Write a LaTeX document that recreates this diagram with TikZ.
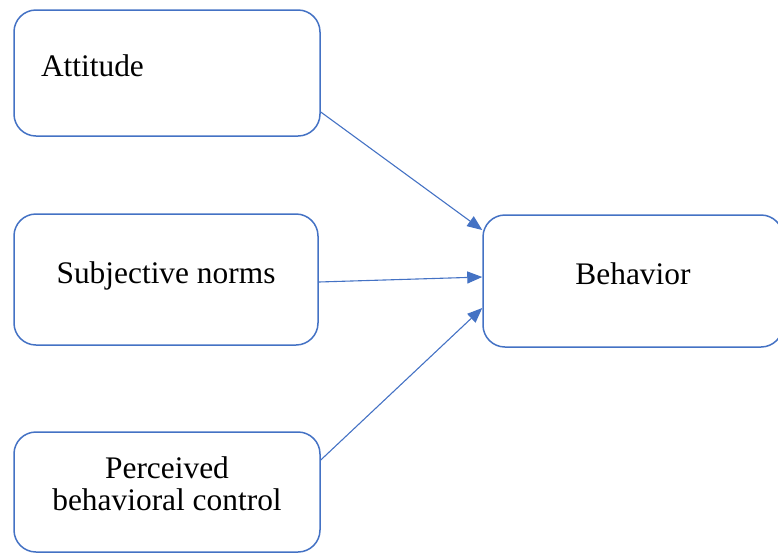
\documentclass[tikz,border=0pt]{standalone}
\usepackage{fontspec}
\setmainfont{Liberation Serif}
\usepackage{xcolor}
\usetikzlibrary{arrows.meta,positioning,calc}
\definecolor{lineblue}{RGB}{68,114,196}

\begin{document}
\begin{tikzpicture}[
    x=0.5pt, y=-0.5pt,
    block/.style={draw=lineblue, line width=0.75pt, rectangle, rounded corners=11pt, align=center, text height=11pt, text depth=7.5pt, font=\fontsize{15.7}{16}\selectfont},
    arrow/.style={-{Triangle[length=7.5pt,width=6pt]}, lineblue, line width=0.55pt}
]
    \useasboundingbox (0,0) rectangle (778,553);

    % Determinants (left)
    \node [block, minimum width=153pt, minimum height=63pt, text width=126pt, inner xsep=13.5pt, align=left] (attitude) at (167,73) {Attitude};
    \node [block, minimum width=152pt, minimum height=65.5pt] (norms) at (166,279.5) {Subjective norms};
    \node [block, minimum width=153pt, minimum height=60pt, text height=26pt] (control) at (167,492) {Perceived\\behavioral control};

    % Outcome (right)
    \node [block, minimum width=150pt, minimum height=66pt] (behavior) at (633,281) {Behavior};

    % Connections
    \draw [arrow] ($(attitude.east)+(0,39)$) -- ($(behavior.west)+(0,-51)$);
    \draw [arrow] ($(norms.east)+(0,2.5)$) -- ($(behavior.west)+(0,-4)$);
    \draw [arrow] ($(control.east)+(0,-32)$) -- ($(behavior.west)+(0,27)$);

\end{tikzpicture}
\end{document}
